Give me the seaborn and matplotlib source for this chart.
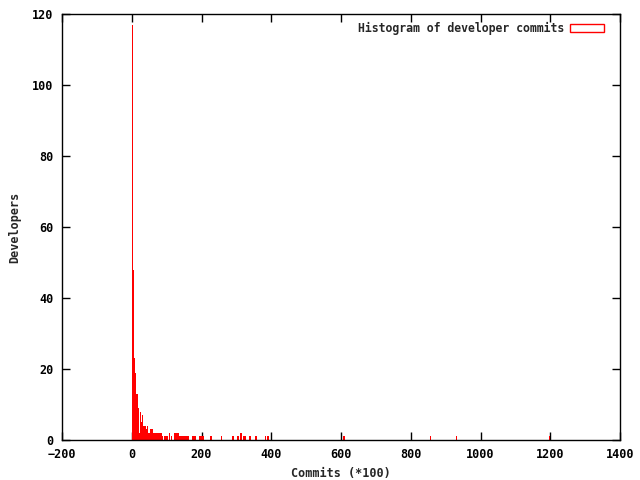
import matplotlib
matplotlib.use('Agg')
import matplotlib.pyplot as plt
from matplotlib.patches import Patch
import seaborn as sns

# commits are in units of 100
commits = [0, 3, 6, 9, 11, 14, 17, 20, 23, 26, 29, 31, 34, 37, 40, 43, 46, 49, 51, 54,
           57, 60, 63, 66, 69, 72, 74, 77, 80, 83, 86,
           94, 100, 106, 112, 123, 126, 129, 132, 134, 137, 140, 143, 146, 149, 152, 154,
           160, 172, 174, 177, 180, 192, 197, 200, 203, 226, 255, 289, 303, 312, 320, 323,
           338, 355, 383, 389, 607, 855, 930, 1196]
developers = [117, 48, 23, 19, 10, 13, 9, 2, 8, 5, 7, 4, 3, 4, 3, 4, 2, 2, 2, 3,
              3, 2, 2, 2, 2, 2, 2, 2, 2, 2, 1,
              1, 1, 2, 1, 2, 2, 2, 2, 1, 1, 1, 1, 1, 1, 1, 1,
              1, 1, 1, 1, 1, 1, 1, 1, 1, 1, 1, 1, 1, 2, 1, 1,
              1, 1, 1, 1, 1, 1, 1, 1]

x_ticks = list(range(-200, 1401, 200))
y_ticks = list(range(0, 121, 20))

sns.set_style('ticks')
plt.rcParams['font.family'] = ['DejaVu Sans Mono']
plt.rcParams['font.weight'] = 'bold'
plt.rcParams['font.size'] = 8.5

fig = plt.figure(figsize=(6.4, 4.8), dpi=100)
ax = fig.add_axes([62 / 640, 40 / 480, 558 / 640, 426 / 480])
ax.set_axisbelow(True)  # bars sit on top of the tick marks, like the original

sns.histplot(x=commits, weights=developers, discrete=True, color='red',
             edgecolor='red', linewidth=0.5, alpha=1, ax=ax)
# hide empty bins so their edges don't paint the baseline, and keep bars crisp
for p in ax.patches:
    if p.get_height() == 0:
        p.set_visible(False)
    p.set_antialiased(False)

ax.set_xlim(-200, 1400)
ax.set_ylim(0, 120)
ax.set_xticks(x_ticks)
ax.set_yticks(y_ticks)
ax.tick_params(direction='in', length=6, width=1, top=True, right=True,
               labelsize=8.5, pad=6, colors='black')
for s in ax.spines.values():
    s.set_visible(True)
    s.set_color('black')
    s.set_linewidth(1)

ax.set_xlabel('Commits (*100)', fontsize=8.5, fontweight='bold', labelpad=4)
ax.set_ylabel('Developers', fontsize=8.5, fontweight='bold', labelpad=8)

handle = Patch(facecolor='white', edgecolor='red', linewidth=1,
               label='Histogram of developer commits')
ax.legend(handles=[handle], loc='upper right', frameon=False, markerfirst=False,
          bbox_to_anchor=(0.985, 1.0), borderaxespad=0.3, handlelength=2.9,
          handleheight=0.6, handletextpad=0.5, prop={'weight': 'bold', 'size': 8.3})

fig.savefig('out.png', dpi=100, facecolor='white')
